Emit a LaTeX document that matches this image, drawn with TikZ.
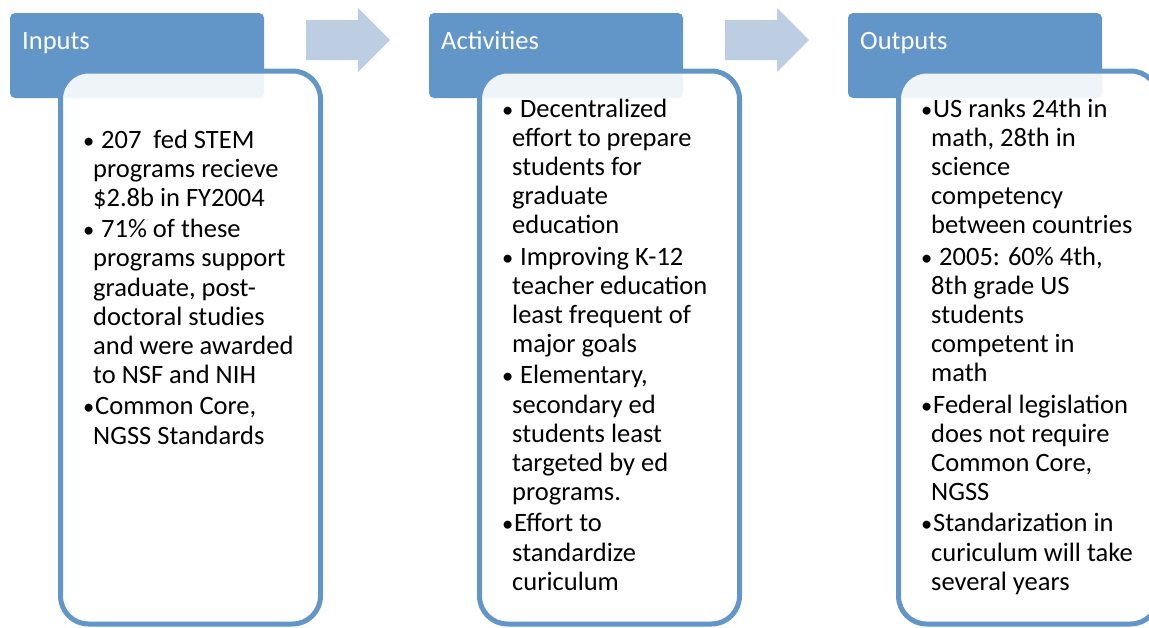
\documentclass[tikz,border=0pt]{standalone}
\usepackage{fontspec}
\setmainfont{Carlito}

\definecolor{hdblue}{RGB}{98,150,200}
\definecolor{arblue}{RGB}{189,205,226}

\tikzset{
	header/.style = {fill=hdblue, rounded corners=5pt},
	panel/.style = {draw=hdblue, line width=5pt, fill=white, fill opacity=0.9, rounded corners=28pt},
	flow/.style = {fill=arblue},
	every node/.style = {inner sep=0pt, font=\fontsize{26.5}{29.1}\selectfont}
}

% hanging bullet in front of a list line
\newcommand{\bull}{\hspace*{-11pt}\makebox[13pt][c]{\scalebox{0.85}{•}}}

\begin{document}
\begin{tikzpicture}[x=1pt,y=-1pt]

	\clip (0,0) rectangle (1149,627);

	\def\colsep{419}

	% column heads and panels
	\foreach \i/\lbl in {0/Inputs,1/Activities,2/Outputs}{
		\fill[header] ({10+\i*\colsep},13) rectangle ({264+\i*\colsep},98);
		\node[anchor=base west, text=white] (hd\i) at ({22+\i*\colsep},49) {\lbl};
		\draw[panel] ({60.5+\i*\colsep},71) rectangle ({320.5+\i*\colsep},624);
	}

	% block arrows between the heads
	\foreach \i in {0,1}{
		\fill[flow] ({306+\i*\colsep},20) -- ({358+\i*\colsep},20) -- ({358+\i*\colsep},8)
			-- ({390+\i*\colsep},40) -- ({358+\i*\colsep},72) -- ({358+\i*\colsep},60)
			-- ({306+\i*\colsep},60) -- cycle;
	}

	\node[anchor=base west] (inTxt) at (93,148) {\begin{tabular}[t]{@{}l@{}}
		\bull\ 207\ \ fed STEM\\
		programs recieve\\
		\$2.8b in FY2004\\[2.5pt]
		\bull\ 71\% of these\\
		programs support\\
		graduate, post-\\
		doctoral studies\\
		and were awarded\\
		to NSF and NIH\\[2.5pt]
		\bull Common Core,\\
		NGSS Standards
	\end{tabular}};

	\node[anchor=base west] (actTxt) at (512,117) {\begin{tabular}[t]{@{}l@{}}
		\bull\ Decentralized\\
		effort to prepare\\
		students for\\
		graduate\\
		education\\[2.5pt]
		\bull\ Improving K-12\\
		teacher education\\
		least frequent of\\
		major goals\\[2.5pt]
		\bull\ Elementary,\\
		secondary ed\\
		students least\\
		targeted by ed\\
		programs.\\[2.5pt]
		\bull Effort to\\
		standardize\\
		curiculum
	\end{tabular}};

	\node[anchor=base west] (outTxt) at (931,117) {\begin{tabular}[t]{@{}l@{}}
		\bull US ranks 24th in\\
		math, 28th in\\
		science\\
		competency\\
		between countries\\[2.5pt]
		\bull\ 2005: 60\% 4th,\\
		8th grade US\\
		students\\
		competent in\\
		math\\[2.5pt]
		\bull Federal legislation\\
		does not require\\
		Common Core,\\
		NGSS\\[2.5pt]
		\bull Standarization in\\
		curiculum will take\\
		several years
	\end{tabular}};

\end{tikzpicture}
\end{document}
